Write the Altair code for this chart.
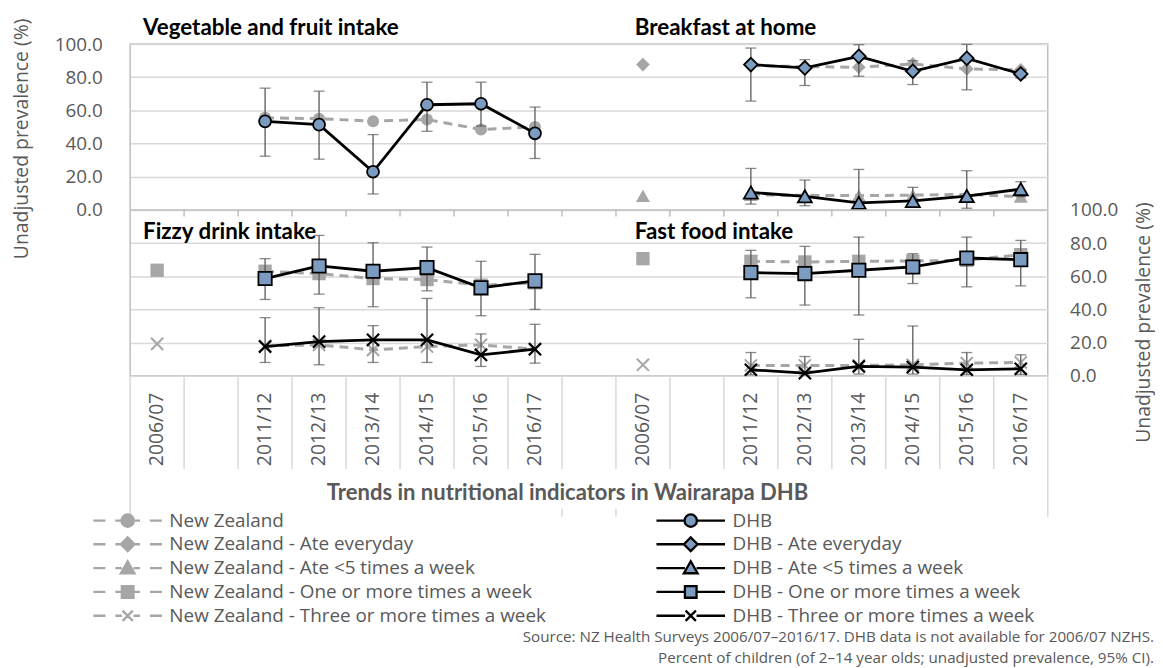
import altair as alt
import pandas as pd

# ---------------- data ----------------
years = ["2006/07", "2011/12", "2012/13", "2013/14", "2014/15", "2015/16", "2016/17"]

# Vegetable and fruit intake (top-left)
veg_nz = [None, 55.5, 55.0, 53.5, 54.5, 48.5, 50.0]
veg_dhb = [None, 53.4, 51.4, 23.0, 63.4, 64.0, 46.2]
veg_lo = [None, 32.4, 30.6, 9.6, 47.4, 50.5, 31.0]
veg_hi = [None, 73.4, 71.6, 45.4, 77.0, 77.0, 62.0]

# Breakfast at home (top-right)
bf_every_nz = [87.6, 87.0, 86.4, 86.0, 88.0, 85.0, 84.4]
bf_every_dhb = [None, 87.6, 85.6, 92.6, 83.6, 91.4, 82.0]
bf_every_lo = [None, 65.6, 75.0, 80.6, 75.6, 72.4, 79.5]
bf_every_hi = [None, 97.6, 90.6, 99.6, 90.0, 99.8, 84.5]
bf_lt5_nz = [8.5, 9.0, 8.8, 8.6, 8.9, 9.4, 8.0]
bf_lt5_dhb = [None, 10.5, 8.2, 4.2, 5.4, 8.3, 12.5]
bf_lt5_lo = [None, 3.5, 2.5, 0.5, 1.5, 1.0, 8.0]
bf_lt5_hi = [None, 25.0, 18.0, 24.4, 13.6, 23.6, 17.0]

# Fizzy drink intake (bottom-left)
fz_one_nz = [63.6, 63.0, 61.6, 58.6, 58.0, 54.6, 56.0]
fz_one_dhb = [None, 58.6, 66.2, 63.0, 65.2, 53.0, 57.2]
fz_one_lo = [None, 46.0, 49.2, 41.6, 51.2, 36.2, 40.0]
fz_one_hi = [None, 70.6, 84.6, 80.2, 77.6, 69.0, 73.2]
fz_three_nz = [19.2, 18.0, 18.6, 15.6, 17.6, 18.6, 16.0]
fz_three_dhb = [None, 17.6, 20.6, 21.6, 21.6, 12.6, 16.0]
fz_three_lo = [None, 8.0, 6.6, 8.0, 8.0, 5.6, 7.6]
fz_three_hi = [None, 35.0, 41.0, 30.2, 46.6, 25.2, 31.0]

# Fast food intake (bottom-right)
ff_one_nz = [70.6, 69.0, 68.6, 69.0, 69.2, 69.6, 73.0]
ff_one_dhb = [None, 62.2, 61.6, 63.6, 65.6, 71.0, 70.0]
ff_one_lo = [None, 47.0, 42.6, 36.6, 55.6, 53.6, 54.2]
ff_one_hi = [None, 75.6, 78.0, 83.6, 73.6, 83.6, 81.6]
ff_three_nz = [6.6, 6.2, 6.2, 6.2, 6.6, 7.6, 8.0]
ff_three_dhb = [None, 3.6, 1.6, 5.6, 5.2, 3.6, 4.2]
ff_three_lo = [None, 0.6, 0.4, 1.0, 1.0, 0.8, 0.8]
ff_three_hi = [None, 14.0, 11.6, 22.0, 30.0, 14.0, 12.6]

panel_titles_left = ["Vegetable and fruit intake", "Fizzy drink intake"]
panel_titles_right = ["Breakfast at home", "Fast food intake"]
x_title = "Trends in nutritional indicators in Wairarapa DHB"
y_title = "Unadjusted prevalence (%)"

legend_labels = [
    "New Zealand",
    "New Zealand - Ate everyday",
    "New Zealand - Ate <5 times a week",
    "New Zealand - One or more times a week",
    "New Zealand - Three or more times a week",
    "DHB",
    "DHB - Ate everyday",
    "DHB - Ate <5 times a week",
    "DHB - One or more times a week",
    "DHB - Three or more times a week",
]

source_lines = [
    "Source: NZ Health Surveys 2006/07\u20132016/17. DHB data is not available for 2006/07 NZHS.",
    "Percent of children (of 2\u201314 year olds; unadjusted prevalence, 95% CI).",
]

# ---------------- styling ----------------
GREY = "#A6A6A6"
BLUE = "#7B9BC0"
TXT = "#595959"
GRID = "#D9D9D9"
BORDER = "#BFBFBF"
X_PATH = "M-1,-1L1,1M-1,1L1,-1"

# ---------------- categories ----------------
left_keys = ["L|2006/07", "G1"] + ["L|" + y for y in years[1:]]
right_keys = ["R|2006/07", "G3"] + ["R|" + y for y in years[1:]]
x_domain = left_keys + ["G2"] + right_keys

series = [
    dict(id="veg", side="L", off=0, shape="circle", nz=veg_nz, dhb=veg_dhb, lo=veg_lo, hi=veg_hi),
    dict(id="bf1", side="R", off=0, shape="diamond", nz=bf_every_nz, dhb=bf_every_dhb, lo=bf_every_lo, hi=bf_every_hi),
    dict(id="bf2", side="R", off=0, shape="triangle", nz=bf_lt5_nz, dhb=bf_lt5_dhb, lo=bf_lt5_lo, hi=bf_lt5_hi),
    dict(id="fz1", side="L", off=-100, shape="square", nz=fz_one_nz, dhb=fz_one_dhb, lo=fz_one_lo, hi=fz_one_hi),
    dict(id="fz2", side="L", off=-100, shape="x", nz=fz_three_nz, dhb=fz_three_dhb, lo=fz_three_lo, hi=fz_three_hi),
    dict(id="ff1", side="R", off=-100, shape="square", nz=ff_one_nz, dhb=ff_one_dhb, lo=ff_one_lo, hi=ff_one_hi),
    dict(id="ff2", side="R", off=-100, shape="x", nz=ff_three_nz, dhb=ff_three_dhb, lo=ff_three_lo, hi=ff_three_hi),
]

nz_rows, dhb_rows = [], []
for s in series:
    for i, yr in enumerate(years):
        key = s["side"] + "|" + yr
        if s["nz"][i] is not None:
            nz_rows.append(dict(sid=s["id"], shape=s["shape"], key=key, yi=i,
                                y=s["nz"][i] + s["off"], inline=i > 0))
        if s["dhb"][i] is not None:
            dhb_rows.append(dict(sid=s["id"], shape=s["shape"], key=key, yi=i,
                                 y=s["dhb"][i] + s["off"],
                                 lo=s["lo"][i] + s["off"], hi=s["hi"][i] + s["off"]))
nz = pd.DataFrame(nz_rows)
dhb = pd.DataFrame(dhb_rows)

XS = alt.Scale(type="band", domain=x_domain, paddingInner=0, paddingOuter=0)
YS = alt.Scale(domain=[-100, 100], nice=False, zero=False)


def X(bp=0.5, axis=None):
    return alt.X("key:N", scale=XS, axis=axis, bandPosition=bp)


def Y(field="y", axis=None):
    return alt.Y(field + ":Q", scale=YS, axis=axis)


left_axis = alt.Axis(
    orient="left", values=list(range(-100, 101, 20)),
    labelExpr="datum.value >= 0 ? format(datum.value, '.1f') : ''",
    grid=True, gridColor=GRID, gridWidth=1.5, domain=False, ticks=False,
    labelPadding=28, labelFont="Open Sans", labelFontSize=19, labelColor=TXT,
    labelOverlap=False,
    title=y_title, titleFont="Open Sans", titleFontSize=19.5,
    titleFontWeight="normal", titleColor=TXT, titleX=-109, titleY=95,
    titleAngle=270, titleBaseline="middle",
)
right_axis = alt.Axis(
    orient="right", values=list(range(-100, 1, 20)),
    labelExpr="format(datum.value + 100, '.1f')",
    grid=False, domain=False, ticks=False,
    labelPadding=22, labelFont="Open Sans", labelFontSize=19, labelColor=TXT,
    labelOverlap=False,
    title=y_title, titleFont="Open Sans", titleFontSize=19.5,
    titleFontWeight="normal", titleColor=TXT, titleX=96, titleY=280,
    titleAngle=270, titleBaseline="middle",
)

# category boundary lines in the label area
bounds = pd.DataFrame({"key": x_domain, "y": -100.0, "y2": -156.3})
bound_lines = alt.Chart(bounds).mark_rule(color=GRID, strokeWidth=1.5).encode(
    x=X(0), y=Y(), y2="y2:Q")
bound_end = alt.Chart(bounds.tail(1)).mark_rule(color=GRID, strokeWidth=1.5).encode(
    x=X(1), y=Y(), y2="y2:Q")

# category labels (years) under the plot
cat_labels = pd.DataFrame({"key": [k for k in x_domain if "|" in k]})
cat_labels["t"] = cat_labels["key"].str.slice(2)
cat_text = alt.Chart(cat_labels).mark_text(
    angle=270, align="right", baseline="middle", font="Open Sans", fontSize=19.5,
    color=TXT).encode(x=X(), y=alt.Y(datum=-110.2, scale=YS, axis=None), text="t:N")

# category axis title
xt = pd.DataFrame({"key": ["G2"], "t": [x_title]})
x_title_text = alt.Chart(xt).mark_text(
    align="center", baseline="alphabetic", dx=-21.5, font="Lato", fontWeight="bold",
    fontSize=22.2, color=TXT).encode(x=X(), y=alt.Y(datum=-174.9, scale=YS, axis=None), text="t:N")

# small ticks on the middle axis line (carry the left axis)
mid_ticks = pd.DataFrame({"key": x_domain[1:], "y": 0.0, "y2": -4.0})
carrier = alt.Chart(mid_ticks).mark_rule(color=BORDER, strokeWidth=1.5).encode(
    x=X(0), y=Y("y", left_axis), y2="y2:Q")

# group box lines under the labels
grp0 = pd.DataFrame({"key": [x_domain[0], "G2"], "y": [-156.3, -180.2], "y2": [-185.0, -185.0]})
grp1 = pd.DataFrame({"key": ["G2", x_domain[-1]], "y": [-180.2, -156.3], "y2": [-185.0, -185.0]})
grp_a = alt.Chart(grp0).mark_rule(color=GRID, strokeWidth=1.5).encode(x=X(0), y=Y(), y2="y2:Q")
grp_b = alt.Chart(grp1).mark_rule(color=GRID, strokeWidth=1.5).encode(x=X(1), y=Y(), y2="y2:Q")

shape_map = {"circle": "circle", "diamond": "diamond", "triangle": "triangle-up",
             "square": "square", "x": X_PATH}
size_map = {"circle": 145, "diamond": 190, "triangle": 200, "square": 180, "x": 150}

layers = [carrier, bound_lines, bound_end, grp_a, grp_b, cat_text, x_title_text]

# NZ dashed lines
layers.append(alt.Chart(nz[nz.inline]).mark_line(
    color=GREY, strokeWidth=3, strokeDash=[9, 6]).encode(
    x=X(), y=Y(), detail="sid:N", order="yi:O"))
# NZ markers
for sh in ["circle", "diamond", "triangle", "square", "x"]:
    sub = nz[nz["shape"] == sh]
    if sh == "x":
        m = alt.Chart(sub).mark_point(shape=X_PATH, size=size_map[sh], filled=False,
                                      stroke=GREY, strokeWidth=2, opacity=1)
    else:
        m = alt.Chart(sub).mark_point(shape=shape_map[sh], size=size_map[sh], filled=True,
                                      fill=GREY, strokeWidth=0, opacity=1)
    layers.append(m.encode(x=X(), y=Y()))

# DHB error bars
layers.append(alt.Chart(dhb).mark_rule(color=TXT, strokeWidth=1.3).encode(
    x=X(), y=Y("lo"), y2="hi:Q"))
layers.append(alt.Chart(dhb).mark_tick(color=TXT, thickness=1.3, size=11, orient="horizontal").encode(
    x=X(), y=Y("lo")))
layers.append(alt.Chart(dhb).mark_tick(color=TXT, thickness=1.3, size=11, orient="horizontal").encode(
    x=X(), y=Y("hi")))

# DHB lines
layers.append(alt.Chart(dhb).mark_line(color="black", strokeWidth=2.8).encode(
    x=X(), y=Y(), detail="sid:N", order="yi:O"))
# DHB markers
for sh in ["circle", "diamond", "triangle", "square", "x"]:
    sub = dhb[dhb["shape"] == sh]
    if sh == "x":
        m = alt.Chart(sub).mark_point(shape=X_PATH, size=size_map[sh], filled=False,
                                      stroke="black", strokeWidth=2.2, opacity=1)
    else:
        m = alt.Chart(sub).mark_point(shape=shape_map[sh], size=size_map[sh], filled=True,
                                      fill=BLUE, stroke="black", strokeWidth=1.8, opacity=1)
    layers.append(m.encode(x=X(), y=Y()))

# panel titles
pt_left = pd.DataFrame({"key": [x_domain[0]] * 2, "t": panel_titles_left, "y": [105.4, -17.4]})
pt_right = pd.DataFrame({"key": ["R|2006/07"] * 2, "t": panel_titles_right, "y": [105.4, -17.4]})
for d, dx in [(pt_left, 13), (pt_right, 19)]:
    layers.append(alt.Chart(d).mark_text(
        align="left", baseline="alphabetic", dx=dx, font="Lato", fontWeight="bold",
        fontSize=22.5, color="black").encode(x=X(0), y=Y(), text="t:N"))

# source lines
src = pd.DataFrame({"key": [x_domain[-1]] * 2, "t": source_lines, "i": [0, 1]})
layers.append(alt.Chart(src).transform_calculate(y="-260.5 - 13.0 * datum.i").mark_text(
    align="right", baseline="alphabetic", dx=107, font="Open Sans", fontSize=15.3,
    color=TXT).encode(x=X(1), y=Y(), text="t:N"))

# legend
def sym(marker, dashed):
    if dashed:
        line = "M-1,0L-0.65,0M-0.36,0L-0.17,0M0.17,0L0.36,0M0.65,0L1,0"
    else:
        line = "M-1,0L-0.17,0M0.17,0L1,0"
    return line + marker

m_circle = "M-0.18,0A0.18,0.18,0,1,1,0.18,0A0.18,0.18,0,1,1,-0.18,0Z"
m_diamond = "M-0.2,0L0,-0.2L0.2,0L0,0.2Z"
m_tri = "M0,-0.2L0.2,0.15L-0.2,0.15Z"
m_square = "M-0.17,-0.17L0.17,-0.17L0.17,0.17L-0.17,0.17Z"
m_x = "M-0.15,-0.15L0.15,0.15M-0.15,0.15L0.15,-0.15"
markers = [m_circle, m_diamond, m_tri, m_square, m_x]
legend_paths = [sym(mk, True) for mk in markers] + [sym(mk, False) for mk in markers]
legend_fills = [GREY] * 5 + [BLUE] * 5
legend_strokes = [GREY] * 5 + ["black"] * 5

leg = alt.Legend(
    title=None, orient="none", legendX=-38.5, legendY=467.9, columns=2,
    columnPadding=109, rowPadding=0, clipHeight=23.6, symbolSize=4761,
    symbolStrokeWidth=2.3, symbolOffset=0, labelOffset=6, labelFont="Open Sans",
    labelFontSize=19, labelColor=TXT, labelLimit=700, padding=0, gridAlign="each",
)
leg_df = pd.DataFrame({"series": legend_labels})
layers.append(alt.Chart(leg_df).transform_filter("false").mark_point(
    filled=True, opacity=1).encode(
    shape=alt.Shape("series:N", scale=alt.Scale(domain=legend_labels, range=legend_paths), legend=leg),
    fill=alt.Fill("series:N", scale=alt.Scale(domain=legend_labels, range=legend_fills), legend=leg),
    stroke=alt.Stroke("series:N", scale=alt.Scale(domain=legend_labels, range=legend_strokes), legend=leg),
))

# middle axis line carrying the right-hand axis
layers.append(alt.Chart(pd.DataFrame({"y": [0.0]})).mark_rule(color=BORDER, strokeWidth=1.5).encode(
    y=Y("y", right_axis)))

chart = alt.layer(*layers).resolve_scale(y="independent").properties(
    width=924, height=334,
    padding={"left": 123, "top": 34, "right": 108, "bottom": 292},
    autosize=alt.AutoSizeParams(type="none"),
    background="white",
).configure_view(stroke=BORDER, strokeWidth=1.5)

chart.save("out.html", embed_options={"renderer": "svg", "actions": False})
